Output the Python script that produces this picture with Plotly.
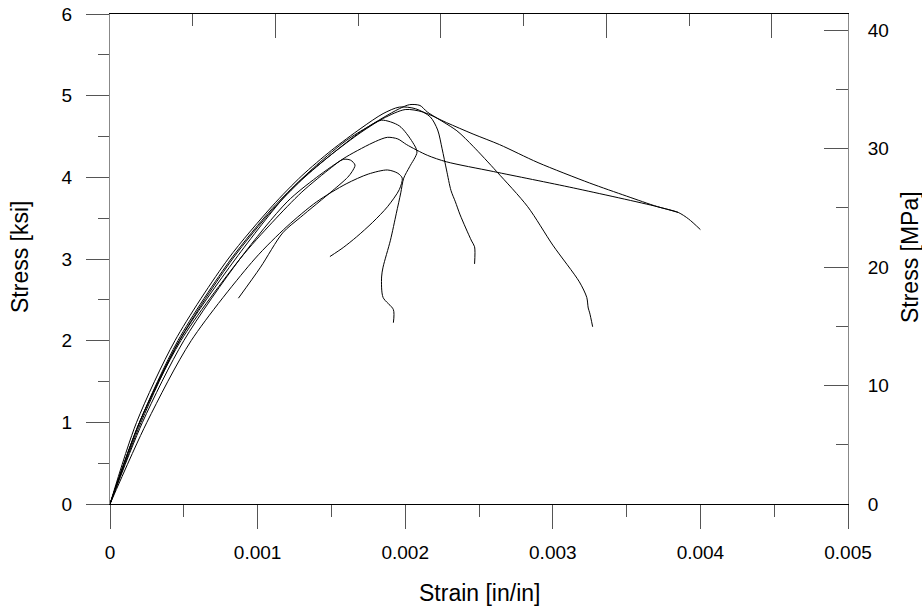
import plotly.graph_objects as go

# ---- data (strain [in/in], stress [ksi]) ----
strain_a = [0, 0.0002, 0.00048, 0.00088, 0.0011, 0.0013, 0.0015, 0.00158, 0.00163, 0.00166, 0.00164, 0.00161, 0.00151, 0.00129, 0.00117, 0.00102, 0.00087]
stress_a = [0, 1.0, 2.0, 3.0, 3.45, 3.82, 4.12, 4.22, 4.21, 4.15, 4.07, 4.0, 3.84, 3.51, 3.32, 2.9, 2.52]

strain_b = [0, 0.00025, 0.00055, 0.00098, 0.0012, 0.0014, 0.0016, 0.00175, 0.00188, 0.00195, 0.00198, 0.00196, 0.00188, 0.00178, 0.00167, 0.00158, 0.00149]
stress_b = [0, 1.0, 2.0, 3.0, 3.4, 3.7, 3.92, 4.04, 4.09, 4.05, 3.99, 3.85, 3.64, 3.45, 3.27, 3.14, 3.03]

strain_c = [0, 0.0002, 0.00047, 0.00085, 0.0012, 0.0014, 0.0016, 0.00175, 0.00184, 0.00196, 0.00205, 0.00208, 0.00203, 0.00199, 0.00197, 0.00194, 0.0019, 0.00185, 0.00184, 0.00185, 0.00192, 0.00192]
stress_c = [0, 1.0, 2.0, 3.0, 3.8, 4.15, 4.45, 4.62, 4.70, 4.63, 4.43, 4.31, 4.13, 3.99, 3.81, 3.56, 3.23, 2.90, 2.78, 2.53, 2.38, 2.22]

strain_d = [0, 0.00018, 0.00044, 0.0008, 0.0011, 0.0013, 0.0015, 0.0017, 0.00185, 0.00196, 0.00207, 0.00217, 0.00222, 0.00225, 0.00228, 0.00231, 0.00234, 0.00237, 0.00241, 0.00245, 0.00247, 0.00247]
stress_d = [0, 1.0, 2.0, 3.0, 3.65, 4.02, 4.33, 4.6, 4.78, 4.86, 4.84, 4.74, 4.58, 4.35, 4.09, 3.84, 3.70, 3.55, 3.38, 3.22, 3.15, 2.94]

strain_e = [0, 0.00021, 0.00047, 0.00083, 0.0011, 0.0013, 0.0015, 0.0017, 0.00185, 0.00196, 0.00203, 0.0021, 0.00215, 0.00235, 0.00246, 0.00262, 0.00283, 0.003, 0.00318, 0.00323, 0.00324, 0.00325, 0.00327]
stress_e = [0, 1.0, 2.0, 3.0, 3.6, 3.97, 4.28, 4.56, 4.73, 4.84, 4.89, 4.88, 4.80, 4.57, 4.38, 4.07, 3.64, 3.17, 2.72, 2.53, 2.40, 2.34, 2.17]

strain_f = [0, 0.0002, 0.00046, 0.00082, 0.0011, 0.0013, 0.0015, 0.0017, 0.00185, 0.002, 0.00212, 0.00228, 0.00246, 0.00264, 0.0029, 0.00325, 0.0035, 0.00371, 0.00385, 0.00392, 0.004]
stress_f = [0, 1.0, 2.0, 3.0, 3.62, 3.98, 4.28, 4.55, 4.72, 4.83, 4.80, 4.67, 4.53, 4.40, 4.18, 3.93, 3.77, 3.64, 3.57, 3.49, 3.36]

strain_g = [0, 0.00022, 0.0005, 0.00088, 0.0012, 0.0014, 0.0016, 0.0018, 0.00188, 0.00195, 0.00201, 0.00215, 0.00228, 0.0026, 0.00314, 0.00371, 0.00385]
stress_g = [0, 1.0, 2.0, 3.0, 3.7, 4.0, 4.25, 4.44, 4.49, 4.47, 4.40, 4.27, 4.19, 4.07, 3.87, 3.64, 3.57]

x_tick_vals = [0, 0.001, 0.002, 0.003, 0.004, 0.005]
x_tick_text = ["0", "0.001", "0.002", "0.003", "0.004", "0.005"]
y_tick_vals = [0, 1, 2, 3, 4, 5, 6]
y_tick_text = ["0", "1", "2", "3", "4", "5", "6"]
mpa_tick_vals = [0, 10, 20, 30, 40]
mpa_tick_text = ["0", "10", "20", "30", "40"]
KSI_TO_MPA = 6.895

series = [
    (strain_a, stress_a), (strain_b, stress_b), (strain_c, stress_c),
    (strain_d, stress_d), (strain_e, stress_e), (strain_f, stress_f),
    (strain_g, stress_g),
]

fig = go.Figure()
for xs, ys in series:
    fig.add_trace(go.Scatter(
        x=xs, y=ys, mode="lines",
        line=dict(color="black", width=1, shape="spline", smoothing=0.8),
        showlegend=False, hoverinfo="skip",
    ))

# invisible traces to activate secondary axes
fig.add_trace(go.Scatter(x=[0], y=[0], xaxis="x2", yaxis="y", mode="markers",
                         marker=dict(opacity=0), showlegend=False, hoverinfo="skip"))
fig.add_trace(go.Scatter(x=[0], y=[0], xaxis="x", yaxis="y2", mode="markers",
                         marker=dict(opacity=0), showlegend=False, hoverinfo="skip"))

font = "Liberation Sans, Arial, sans-serif"
tick_font = dict(family=font, size=19, color="black")
title_font = dict(family=font, size=23, color="black")
tickc = "#555555"
sidec = "#888888"

fig.update_layout(
    width=922, height=611,
    margin=dict(l=110, r=74, t=14, b=107, autoexpand=False),
    paper_bgcolor="white", plot_bgcolor="white",
    showlegend=False,
    xaxis=dict(
        range=[0, 0.005], tickvals=x_tick_vals, ticktext=x_tick_text,
        ticks="outside", ticklen=24, tickwidth=1, tickcolor=tickc,
        minor=dict(dtick=0.0005, ticks="outside", ticklen=12, tickcolor=tickc, showgrid=False),
        showline=True, linecolor="black", linewidth=1, automargin=False,
        showgrid=False, zeroline=False, tickfont=tick_font,
        ticklabelstandoff=7,
    ),
    xaxis2=dict(
        overlaying="x", side="top", range=[0, 4.46], dtick=1, tick0=0,
        ticks="inside", ticklen=24, tickwidth=1, tickcolor=tickc,
        minor=dict(dtick=0.5, ticks="inside", ticklen=12, tickcolor=tickc, showgrid=False),
        showline=True, linecolor="black", linewidth=1, automargin=False,
        showticklabels=False, showgrid=False, zeroline=False,
    ),
    yaxis=dict(
        range=[0, 6], tickvals=y_tick_vals, ticktext=y_tick_text,
        ticks="outside", ticklen=23, tickwidth=1, tickcolor=tickc,
        minor=dict(dtick=0.5, ticks="outside", ticklen=11, tickcolor=tickc, showgrid=False),
        showline=True, linecolor=sidec, linewidth=1, automargin=False,
        showgrid=False, zeroline=False, tickfont=tick_font,
        ticklabelstandoff=10,
    ),
    yaxis2=dict(
        overlaying="y", side="right", range=[0, 6 * KSI_TO_MPA],
        tickvals=mpa_tick_vals, ticktext=mpa_tick_text,
        ticks="inside", ticklen=24, tickwidth=1, tickcolor=tickc,
        minor=dict(dtick=5, ticks="inside", ticklen=12, tickcolor=tickc, showgrid=False),
        showline=True, linecolor=sidec, linewidth=1, automargin=False,
        showgrid=False, zeroline=False, tickfont=tick_font,
        ticklabelstandoff=15,
    ),
    annotations=[
        dict(text="Stress [ksi]", xref="paper", yref="paper", x=-0.122, y=0.504,
             textangle=-90, showarrow=False, font=title_font, xanchor="center", yanchor="middle"),
        dict(text="Strain [in/in]", xref="paper", yref="paper", x=0.5, y=-0.1816,
             showarrow=False, font=title_font, xanchor="center", yanchor="middle"),
        dict(text="Stress [MPa]", xref="paper", yref="paper", x=1.084, y=0.504,
             textangle=-90, showarrow=False, font=title_font, xanchor="center", yanchor="middle"),
    ],
)

fig.write_html("out.html")
